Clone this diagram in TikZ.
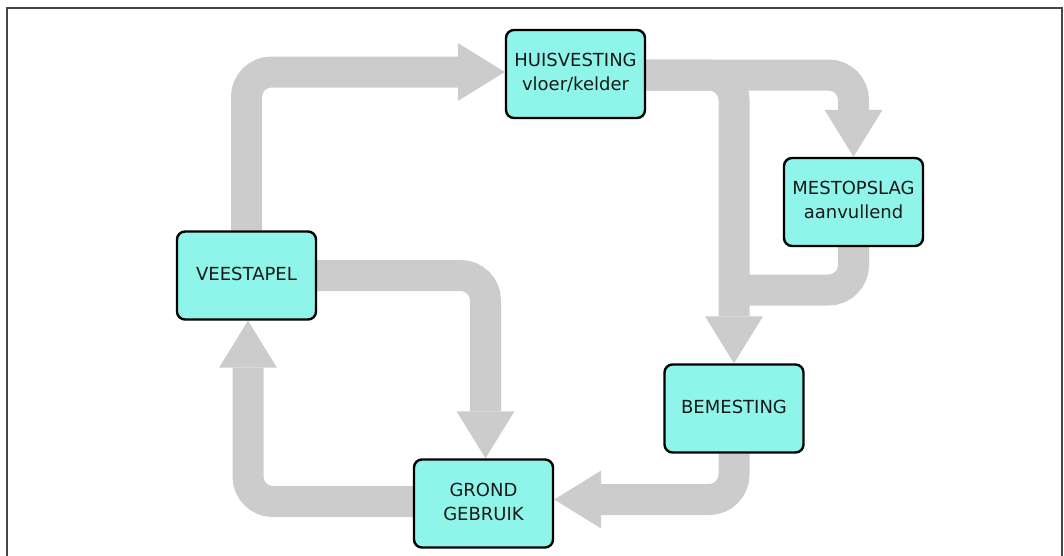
\documentclass[tikz,border=0pt]{standalone}
\usepackage{fontspec}
\setmainfont{DejaVu Sans}
\usetikzlibrary{arrows.meta}
\pgfdeclarelayer{bg}
\pgfsetlayers{bg,main}
\definecolor{boxfill}{RGB}{143,245,234}
\definecolor{flow}{RGB}{204,204,204}
\definecolor{frame}{RGB}{70,70,70}
\newcommand{\stagetext}[1]{\raisebox{3pt}{\begin{tabular}{@{}c@{}}#1\end{tabular}}}
\tikzset{
  stage/.style={draw=black, fill=boxfill, line width=2.4pt, rounded corners=8pt,
    minimum width=139pt, minimum height=88pt, inner sep=0pt, align=center,
    font=\fontsize{18pt}{24pt}\selectfont, text=black!90},
  band/.style={draw=flow, line width=31pt, rounded corners=25pt},
  flowarrow/.style={band, -{Triangle[length=47pt,width=58pt,line width=0pt]}},
}
\begin{document}
\begin{tikzpicture}[x=1pt,y=-1pt]
\useasboundingbox (0,0) rectangle (1064,555);
\draw[frame, line width=2pt] (6.5,556) -- (6.5,7.5) -- (1061.5,7.5) -- (1061.5,556);

\node[stage] (huis)  at (575.5,74)   {\stagetext{HUISVESTING\\vloer/kelder}};
\node[stage] (vee)   at (246.5,275.5) {\stagetext{VEESTAPEL}};
\node[stage] (grond) at (483.5,503.5) {\stagetext{GROND\\GEBRUIK}};
\node[stage] (mest)  at (853.5,202)  {\stagetext{MESTOPSLAG\\aanvullend}};
\node[stage] (bemes) at (734,408.5)  {\stagetext{BEMESTING}};

\coordinate (j) at (bemes.north |- 0,290);

\begin{pgfonlayer}{bg}
\draw[flowarrow] (vee.north) |- ([yshift=2pt]huis.west);
\draw[flowarrow] ([yshift=-1pt]huis.east) -| (mest.north);
\draw[flowarrow] ([yshift=-1pt]huis.east) -| (bemes.north);
\draw[band] (mest.south) |- (j);
\draw[flowarrow] (bemes.south) |- ([yshift=4pt]grond.east);
\draw[flowarrow] (vee.east) -| ([xshift=2pt]grond.north);
\draw[flowarrow] ([yshift=2pt]grond.west) -| ([xshift=1.5pt]vee.south);
\end{pgfonlayer}
\end{tikzpicture}
\end{document}
